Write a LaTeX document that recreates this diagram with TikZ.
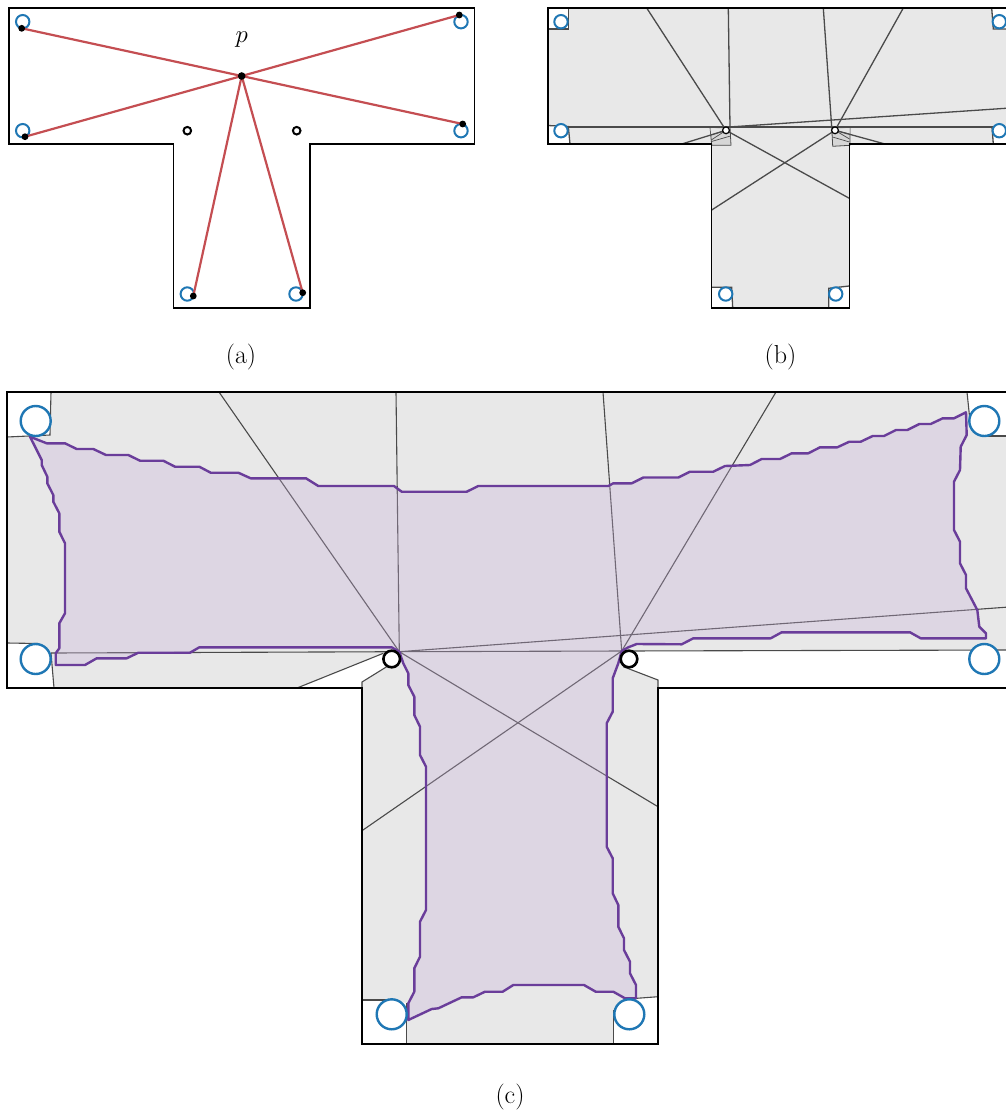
\documentclass[tikz,border=0pt]{standalone}
\definecolor{cellgray}{HTML}{E8E8E8}
\definecolor{linegray}{HTML}{4A4A4A}
\definecolor{ppl}{HTML}{6A3D9A}
\definecolor{pplfill}{RGB}{197,174,216}
\definecolor{cblue}{HTML}{1F77B4}
\definecolor{cred}{HTML}{C44E52}
\tikzset{
  outline/.style={draw=black, line width=1.3pt},
  cline/.style={draw=linegray, line width=1.1pt},
  blinec/.style={draw=linegray, line width=1.3pt},
  bluecirc/.style={draw=cblue, line width=2.4pt, fill=white},
  bluesmall/.style={draw=cblue, line width=2pt, fill=white},
  reflexbig/.style={draw=black, line width=2.6pt, fill=white},
  reflexsmall/.style={draw=black, line width=1.2pt, fill=white},
  redline/.style={draw=cred, line width=2.2pt},
  purpleregion/.style={draw=ppl, line width=2.4pt, line join=round, fill=pplfill, fill opacity=0.31},
  lab/.style={anchor=base, inner sep=0pt, font=\fontsize{26}{30}\selectfont},
}
\begin{document}
\begin{tikzpicture}[x=1pt,y=-1pt]
\useasboundingbox (0,0) rectangle (1006,1114);
\clip (0,0) rectangle (1006,1114);

%================ panel (a) ================
\coordinate (p) at (241.7,76);
\coordinate (e1) at (21.7,28.3);
\coordinate (e2) at (25,136.7);
\coordinate (e3) at (459.3,15);
\coordinate (e4) at (462.7,124);
\coordinate (e5) at (193.3,296);
\coordinate (e6) at (302.7,292.7);
\draw[outline] (9,8) -- (474.7,8) -- (474.7,144) -- (310,144) -- (310,308) -- (173.3,308) -- (173.3,144) -- (9,144) -- cycle;
\foreach \c in {(22.7,21.7),(22.7,130.7),(461,21.7),(461,130.7),(187.3,294),(296,294)}
  \draw[bluesmall] \c circle[radius=6.7pt];
\draw[black, line width=2pt] (187.3,130.7) circle[radius=3.8pt] (296.7,130.7) circle[radius=3.8pt];
\foreach \e in {e1,e2,e3,e4,e5,e6} {
  \draw[redline] (p) -- (\e);
  \fill[black] (\e) circle[radius=3.4pt];
}
\fill[black] (p) circle[radius=3.8pt];
\node[lab, font=\fontsize{31}{35}\selectfont] (plab) at (241.7,42.7) {$p$};
\node[lab] (la) at (241,363.3) {(a)};

%================ panel (b) ================
\fill[cellgray] (548,8) -- (1013,8) -- (1013,144) -- (849.3,144) -- (849.3,308) -- (711.7,308) -- (711.7,144) -- (548,144) -- cycle;
\fill[white] (548,8) -- (568.3,8) -- (568.3,29) -- (548,29) -- cycle;
\fill[white] (548,125.5) -- (568.3,126.5) -- (570,144) -- (548,144) -- cycle;
\fill[white] (991.7,8) -- (993.3,29) -- (1013,29) -- (1013,8) -- cycle;
\fill[white] (992,127) -- (1013,127) -- (1013,144) -- (993.3,144) -- cycle;
\fill[white] (711.7,287.3) -- (731.7,287.3) -- (732.7,308) -- (711.7,308) -- cycle;
\fill[white] (828.7,308) -- (828.7,288.3) -- (849.3,286) -- (849.3,308) -- cycle;
% small clusters near reflex corners
\filldraw[fill=black!16, draw=linegray, line width=0.8pt] (710,127) -- (730,127) -- (731,145.3) -- (711.7,145.3) -- cycle;
\fill[black!10] (710.5,127.5) -- (726,130.3) -- (711,135) -- cycle;
\draw[linegray, line width=0.7pt] (726,130.3) -- (711,135) (726,130.3) -- (711.3,140) (730.5,136) -- (711.5,141.5);
\filldraw[fill=black!16, draw=linegray, line width=0.8pt] (831.7,127) -- (850,127) -- (850,145.3) -- (832.7,146.3) -- cycle;
\fill[black!10] (849.5,127.5) -- (835,130.3) -- (849.5,134) -- cycle;
\draw[linegray, line width=0.7pt] (835,130.3) -- (849.5,134) (835,130.3) -- (849.5,139) (832.5,137) -- (849.5,142);
% cell lines
\coordinate (Q1) at (726,130.3);
\coordinate (Q2) at (835,130.3);
\draw[blinec] (568.3,8) -- (568.3,29) -- (548,29);
\draw[blinec] (548,125.5) -- (568.3,126.5) -- (570,144);
\draw[blinec] (568.3,127) -- (993.3,127);
\draw[blinec] (991.7,8) -- (993.3,29) -- (1013,29);
\draw[blinec] (992,127) -- (993.3,144);
\draw[blinec] (646.7,8) -- (Q1);
\draw[blinec] (728.3,8) -- (730,127);
\draw[blinec] (823.3,8) -- (831.7,127);
\draw[blinec] (903.3,8) -- (Q2);
\draw[blinec] (729,127) -- (1013,107.8);
\draw[blinec] (Q2) -- (885,144);
\draw[blinec] (Q1) -- (681.7,144);
\draw[blinec] (Q1) -- (849.3,198.3);
\draw[blinec] (Q2) -- (711.7,210);
\draw[blinec] (711.7,287.3) -- (731.7,287.3) -- (732.7,308);
\draw[blinec] (828.7,308) -- (828.7,288.3) -- (849.3,286);
\draw[outline] (548,8) -- (1013,8) -- (1013,144) -- (849.3,144) -- (849.3,308) -- (711.7,308) -- (711.7,144) -- (548,144) -- cycle;
\foreach \c in {(561,21.7),(561,130.7),(999.3,21.7),(999.3,130.7),(725.7,294),(835.7,294)}
  \draw[bluesmall] \c circle[radius=6.7pt];
\draw[reflexsmall] (Q1) circle[radius=3.4pt] (Q2) circle[radius=3.4pt];
\node[lab] (lb) at (780.5,363.3) {(b)};

%================ panel (c) ================
\coordinate (P1) at (399.3,651.7);
\coordinate (P2) at (621.7,651);
\fill[cellgray] (7,392) -- (1013,392) -- (1013,688) -- (658,688) -- (658,1044) -- (362,1044) -- (362,688) -- (7,688) -- cycle;
\fill[white] (7,392) -- (51,392) -- (50,435) -- (7,437) -- cycle;
\fill[white] (7,643) -- (38,643.5) -- (51,653) -- (54,688) -- (7,688) -- cycle;
\fill[white] (297,688) -- (383.3,653.3) -- (391.7,659) -- (386.7,666.7) -- (362,682) -- (362,688) -- cycle;
\fill[white] (P2) -- (1013,650) -- (1013,688) -- (658,688) -- (658,680) -- (623.3,666.7) -- cycle;
\fill[white] (967,392) -- (1013,392) -- (1013,436) -- (984,436) -- (970,421) -- cycle;
\fill[white] (362,1000) -- (392,1000) -- (406.7,1003) -- (406.7,1044) -- (362,1044) -- cycle;
\fill[white] (613.3,1044) -- (613.3,1010) -- (636.7,998.3) -- (658,996.7) -- (658,1044) -- cycle;
\draw[cline] (51,392) -- (50,435) -- (7,437);
\draw[cline] (7,643) -- (38,643.5);
\draw[cline] (51,653) -- (54,688);
\draw[cline] (51,653) -- (P1);
\draw[cline] (219,392) -- (P1);
\draw[cline] (396,392) -- (P1);
\draw[cline] (297,688) -- (383.3,653.3);
\draw[cline] (362,688) -- (362,682) -- (386.7,666.7);
\draw[cline] (P1) -- (1013,606.7);
\draw[cline] (P1) -- (P2);
\draw[cline] (P2) -- (1013,650);
\draw[cline] (603,392) -- (P2);
\draw[cline] (776,392) -- (P2);
\draw[cline] (967,392) -- (970,421);
\draw[cline] (984,436) -- (1013,436);
\draw[cline] (P1) -- (658,806.7);
\draw[cline] (P2) -- (362,830.7);
\draw[cline] (623.3,666.7) -- (658,680) -- (658,688);
\draw[cline] (362,1000) -- (392,1000);
\draw[cline] (406.7,1003) -- (406.7,1044);
\draw[cline] (613.3,1010) -- (613.3,1044);
\draw[cline] (636.7,998.3) -- (658,996.7);
% purple region
\filldraw[purpleregion]
 (30,436.7) -- (46.7,443.3) -- (65,443.3) -- (76.7,449) -- (93.3,449) -- (106,455) -- (128.3,455) -- (140,460.7) -- (163.3,460.7) -- (175,466.7) -- (199.3,466.7) -- (210.7,472.7) -- (238.3,472.7) -- (250.7,478.3) -- (306,478.3) -- (318.3,486) -- (394,486) -- (401.7,491.7) -- (466.7,491.7) -- (478.3,486) -- (608.3,486) -- (613.3,483.3) -- (631.7,483.3) -- (643.3,477.5) -- (678.3,477.5) -- (690,471.7) -- (713.3,471.7) -- (725,466) -- (750,465) -- (761.7,459) -- (780,459) -- (791.7,453.3) -- (808.3,453.3) -- (820,447.3) -- (837.3,447.3) -- (849.3,441.7) -- (860.7,441.7) -- (872.7,436) -- (884,436) -- (896,430) -- (907.3,430) -- (919.3,424) -- (930.7,424) -- (942.7,418.3) -- (954,418.3) -- (966,412.3)
 -- (966.7,435) -- (960.7,446.7) -- (960,470) -- (954,481.7) -- (954,530) -- (960,541.7) -- (960,563.3) -- (966,575) -- (966,588.3) -- (977.3,610) -- (979.3,626.7) -- (986,633.3) -- (986,638.3)
 -- (920.7,638.3) -- (910,632.3) -- (781.7,632.3) -- (770.7,638.3) -- (693.3,638.3) -- (681.7,644.3) -- (636.7,644) -- (628.3,647.3) -- (P2)
 -- (618.3,663.3) -- (612.7,678.3) -- (612.7,711.7) -- (606.7,723.3) -- (606.7,846.7) -- (612.7,858.3) -- (612.7,893.3) -- (618.3,905) -- (618.3,926.7) -- (624,938.3) -- (624,950) -- (630,961.7) -- (630,973.3) -- (636,985) -- (636,998.3)
 -- (625,998.3) -- (613.3,991.7) -- (595.7,991.7) -- (584,985) -- (513.3,985) -- (502.7,991.7) -- (485,991.7) -- (473.3,997.3) -- (461.7,997.3) -- (438.3,1008.3) -- (431.7,1009) -- (408.3,1020)
 -- (408.3,1003.3) -- (414.3,991.7) -- (414.3,968.3) -- (420,956.7) -- (420,921.7) -- (426,910) -- (426,766.7) -- (420,755) -- (420,726.7) -- (414.3,715) -- (414.3,696.7) -- (408.3,685) -- (408.3,673.3) -- (403.3,663.3) -- (P1)
 -- (391.7,647.3) -- (199.3,647.3) -- (190,652.7) -- (138.3,652.7) -- (126.7,658.3) -- (96.7,658.3) -- (85,665) -- (55.7,665) -- (55.7,653.3) -- (59.3,648.3)
 -- (59.3,623.3) -- (65,613.3) -- (65,543.3) -- (59.3,531.7) -- (59.3,513.3) -- (53.3,501.7) -- (53.3,495) -- (47.3,483.3) -- (47.3,476.7) -- (41.7,465) -- (41.7,460) -- cycle;
\draw[outline] (7,392) -- (1013,392) -- (1013,688) -- (658,688) -- (658,1044) -- (362,1044) -- (362,688) -- (7,688) -- cycle;
\foreach \c in {(35.7,421),(35.7,659),(984.3,421),(984.3,659),(391.7,1014.3),(629.3,1014.3)}
  \draw[bluecirc] \c circle[radius=15pt];
\draw[reflexbig] (391.7,659) circle[radius=8.3pt] (629,659) circle[radius=8.3pt];
\node[lab] (lc) at (510,1103.3) {(c)};
\end{tikzpicture}
\end{document}
